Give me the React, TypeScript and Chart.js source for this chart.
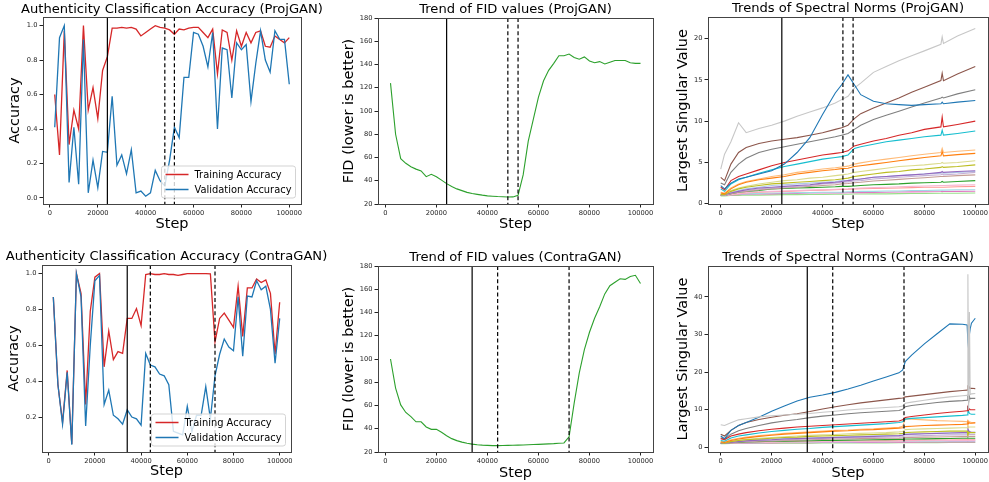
import React, { useEffect, useRef } from "react";
import { Chart, registerables } from "chart.js";

Chart.register(...registerables);

const FONT = "'DejaVu Sans', 'Liberation Sans', sans-serif";

// ---------------- shared ticks / markers ----------------
const X_TICKS = [0, 20000, 40000, 60000, 80000, 100000];
const ACC_Y_TICKS_PROJ = [0, 0.2, 0.4, 0.6, 0.8, 1.0];
const ACC_Y_TICKS_CONTRA = [0.2, 0.4, 0.6, 0.8, 1.0];
const FID_Y_TICKS = [20, 40, 60, 80, 100, 120, 140, 160, 180];
const SPEC_Y_TICKS_PROJ = [0, 5, 10, 15, 20];
const SPEC_Y_TICKS_CONTRA = [0, 10, 20, 30, 40];
const PROJ_MARKERS = [24000, 48000, 52000]; // first solid, rest dashed
const CONTRA_MARKERS = [34000, 44000, 72000];

// ---------------- accuracy / FID data ----------------
const EVAL_STEPS = [2000, 4000, 6000, 8000, 10000, 12000, 14000, 16000, 18000, 20000, 22000, 24000, 26000, 28000, 30000, 32000, 34000, 36000, 38000, 40000, 42000, 44000, 46000, 48000, 50000, 52000, 54000, 56000, 58000, 60000, 62000, 64000, 66000, 68000, 70000, 72000, 74000, 76000, 78000, 80000, 82000, 84000, 86000, 88000, 90000, 92000, 94000, 96000, 98000, 100000];

const PROJ_TRAIN_ACC = [0.60, 0.25, 0.97, 0.31, 0.51, 0.40, 1.0, 0.51, 0.64, 0.46, 0.74, 0.82, 0.985, 0.985, 0.99, 0.985, 0.99, 0.98, 0.94, 0.96, 0.98, 1.0, 0.99, 0.985, 0.975, 0.95, 0.98, 0.975, 0.985, 0.99, 0.99, 0.96, 0.93, 0.98, 0.72, 0.975, 0.96, 0.80, 0.97, 0.88, 0.96, 0.90, 0.96, 0.97, 0.88, 0.875, 0.94, 0.92, 0.90, 0.93];
const PROJ_VAL_ACC = [0.41, 0.93, 1.0, 0.09, 0.41, 0.08, 0.92, 0.03, 0.22, 0.06, 0.27, 0.265, 0.59, 0.19, 0.25, 0.14, 0.28, 0.03, 0.04, 0.01, 0.03, 0.16, 0.10, 0.07, 0.22, 0.41, 0.35, 0.70, 0.70, 0.96, 0.95, 0.88, 0.76, 0.96, 0.40, 0.87, 0.86, 0.58, 0.90, 0.86, 0.89, 0.56, 0.78, 0.97, 0.80, 0.73, 0.97, 0.92, 0.92, 0.66];
const CONTRA_TRAIN_ACC = [0.87, 0.38, 0.17, 0.46, 0.05, 1.0, 0.89, 0.27, 0.79, 0.98, 1.0, 0.48, 0.68, 0.52, 0.565, 0.555, 0.75, 0.75, 0.805, 0.71, 0.995, 1.0, 0.995, 0.995, 1.0, 0.995, 0.995, 0.99, 0.995, 1.0, 1.0, 1.0, 1.0, 1.0, 0.998, 0.62, 0.75, 0.78, 0.74, 0.70, 0.93, 0.65, 0.92, 0.92, 0.97, 0.95, 0.965, 0.89, 0.55, 0.84];
const CONTRA_VAL_ACC = [0.87, 0.38, 0.16, 0.45, 0.045, 1.0, 0.87, 0.15, 0.60, 0.96, 0.99, 0.27, 0.35, 0.21, 0.19, 0.16, 0.24, 0.20, 0.19, 0.155, 0.555, 0.49, 0.48, 0.44, 0.43, 0.38, 0.12, 0.11, 0.10, 0.26, 0.12, 0.21, 0.21, 0.37, 0.19, 0.43, 0.55, 0.635, 0.59, 0.57, 0.87, 0.54, 0.875, 0.87, 0.96, 0.91, 0.93, 0.80, 0.50, 0.75];

const PROJ_FID = [124, 80, 59, 55, 52, 50, 48.5, 43.5, 45.5, 43.5, 40.5, 37.5, 35, 33, 31.5, 30, 29, 28.3, 27.6, 27, 26.7, 26.4, 26.2, 26.0, 26.1, 27.5, 45, 74, 93, 112, 126, 135, 141, 147.5, 147.5, 149, 146, 144.5, 146.5, 143, 141.5, 142.5, 140.5, 142, 143.5, 143.5, 143.5, 141.5, 141, 141];
const CONTRA_FID = [100, 75, 60.5, 54, 50.5, 46, 46, 41.5, 39.5, 39.5, 37, 34, 31.5, 29.8, 28.5, 27.5, 26.8, 26.2, 25.9, 25.7, 25.5, 25.5, 25.6, 25.7, 25.8, 25.9, 26.0, 26.2, 26.4, 26.6, 26.8, 27.0, 27.2, 27.5, 27.8, 33, 62, 88, 108, 123, 135, 145, 156, 163, 166, 169, 168.5, 171, 172, 165];

// ---------------- spectral norms (ProjGAN) ----------------
const PROJ_SPEC_STEPS = [0, 1500, 4000, 7000, 10000, 15000, 20000, 25000, 30000, 35000, 40000, 45000, 47500, 50000, 52500, 55000, 60000, 65000, 70000, 75000, 80000, 86500, 87000, 87500, 93000, 100000];
const P_LIGHTGRAY = [4.2, 6.0, 7.5, 9.8, 8.6, 9.1, 9.5, 10.0, 10.6, 11.1, 11.6, 12.2, 12.6, 13.0, 14.0, 14.6, 15.9, 16.6, 17.3, 17.9, 18.5, 19.3, 20.2, 19.4, 20.3, 21.2];
const P_BROWN = [3.2, 2.8, 4.8, 6.2, 6.8, 7.3, 7.6, 7.8, 8.0, 8.3, 8.6, 9.0, 9.2, 9.5, 10.3, 10.9, 11.6, 12.2, 12.8, 13.5, 14.1, 14.9, 15.8, 14.9, 15.7, 16.6];
const P_GRAY = [2.5, 2.3, 3.8, 4.8, 5.5, 6.2, 6.6, 6.9, 7.2, 7.5, 7.8, 8.1, 8.3, 8.5, 9.0, 9.5, 10.2, 10.7, 11.2, 11.7, 12.2, 12.8, 12.9, 12.8, 13.3, 13.8];
const P_BLUE = [2.2, 1.8, 2.5, 3.0, 3.2, 3.6, 4.0, 4.8, 6.2, 8.0, 10.8, 13.4, 14.4, 15.6, 14.4, 13.2, 12.4, 12.1, 12.0, 11.9, 12.0, 12.1, 12.3, 12.1, 12.3, 12.5];
const P_RED = [2.0, 1.7, 2.8, 3.3, 3.6, 4.1, 4.6, 5.0, 5.3, 5.6, 5.9, 6.1, 6.2, 6.4, 7.0, 7.2, 7.6, 7.9, 8.3, 8.6, 9.0, 9.3, 10.5, 9.3, 9.6, 10.0];
const P_CYAN = [1.8, 1.5, 2.4, 2.9, 3.2, 3.7, 4.1, 4.5, 4.8, 5.1, 5.4, 5.6, 5.7, 5.9, 6.7, 6.9, 7.2, 7.5, 7.7, 7.9, 8.1, 8.3, 8.9, 8.3, 8.5, 8.8];
const P_LIGHTORANGE = [1.4, 1.3, 1.9, 2.4, 2.7, 3.0, 3.3, 3.5, 3.8, 4.0, 4.2, 4.35, 4.45, 4.55, 4.8, 4.95, 5.2, 5.4, 5.6, 5.8, 6.0, 6.2, 6.7, 6.2, 6.35, 6.5];
const P_ORANGE = [1.3, 1.2, 1.8, 2.3, 2.6, 2.9, 3.1, 3.3, 3.6, 3.8, 4.0, 4.15, 4.25, 4.3, 4.5, 4.6, 4.8, 5.0, 5.2, 5.4, 5.6, 5.8, 6.3, 5.8, 5.95, 6.1];
const P_LIGHTOLIVE = [1.2, 1.2, 1.6, 1.9, 2.1, 2.4, 2.6, 2.8, 2.9, 3.1, 3.2, 3.4, 3.5, 3.6, 3.8, 3.9, 4.1, 4.3, 4.5, 4.6, 4.7, 4.9, 5.0, 4.9, 5.0, 5.2];
const P_OLIVE = [1.1, 1.1, 1.5, 1.8, 2.0, 2.2, 2.4, 2.5, 2.6, 2.7, 2.8, 2.9, 3.0, 3.1, 3.3, 3.4, 3.6, 3.8, 3.9, 4.1, 4.2, 4.4, 4.5, 4.4, 4.5, 4.7];
const P_LIGHTBLUE = [1.1, 1.1, 1.4, 1.6, 1.8, 2.0, 2.2, 2.3, 2.4, 2.5, 2.6, 2.7, 2.8, 2.85, 2.95, 3.0, 3.2, 3.3, 3.4, 3.5, 3.6, 3.7, 3.8, 3.7, 3.8, 3.9];
const P_PURPLE = [1.1, 1.1, 1.3, 1.5, 1.7, 1.9, 2.0, 2.1, 2.2, 2.3, 2.5, 2.6, 2.7, 2.8, 2.9, 3.0, 3.2, 3.3, 3.4, 3.5, 3.6, 3.8, 3.9, 3.8, 3.9, 4.0];
const P_LIGHTPURPLE = [1.1, 1.0, 1.3, 1.5, 1.6, 1.8, 1.9, 2.0, 2.1, 2.2, 2.4, 2.5, 2.6, 2.65, 2.75, 2.8, 3.0, 3.1, 3.2, 3.3, 3.4, 3.5, 3.6, 3.5, 3.6, 3.8];
const P_LIGHTBROWN = [1.0, 1.0, 1.2, 1.4, 1.5, 1.7, 1.8, 1.9, 2.0, 2.1, 2.2, 2.3, 2.4, 2.45, 2.55, 2.6, 2.75, 2.85, 2.95, 3.05, 3.15, 3.3, 3.3, 3.3, 3.4, 3.5];
const P_GREEN = [1.0, 1.0, 1.2, 1.4, 1.5, 1.6, 1.8, 1.85, 1.9, 1.95, 2.0, 2.05, 2.1, 2.1, 2.15, 2.2, 2.3, 2.35, 2.4, 2.5, 2.55, 2.6, 2.7, 2.6, 2.7, 2.8];
const P_LIGHTRED = [1.0, 1.0, 1.1, 1.2, 1.3, 1.4, 1.45, 1.5, 1.55, 1.6, 1.65, 1.7, 1.72, 1.75, 1.8, 1.82, 1.85, 1.88, 1.9, 1.95, 2.0, 2.0, 2.0, 2.0, 2.05, 2.1];
const P_LIGHTPINK = [1.0, 1.0, 1.1, 1.25, 1.35, 1.45, 1.5, 1.55, 1.6, 1.65, 1.7, 1.75, 1.78, 1.8, 1.85, 1.9, 1.95, 2.0, 2.05, 2.1, 2.15, 2.2, 2.2, 2.2, 2.25, 2.3];
const P_PINK = [1.0, 1.0, 1.05, 1.1, 1.15, 1.2, 1.2, 1.25, 1.25, 1.3, 1.3, 1.3, 1.32, 1.33, 1.35, 1.35, 1.38, 1.4, 1.42, 1.44, 1.46, 1.48, 1.5, 1.48, 1.5, 1.52];
const P_LIGHTCYAN = [1.0, 1.0, 1.1, 1.15, 1.2, 1.25, 1.3, 1.3, 1.35, 1.35, 1.4, 1.4, 1.4, 1.45, 1.45, 1.5, 1.5, 1.55, 1.55, 1.6, 1.6, 1.65, 1.65, 1.65, 1.7, 1.7];
const P_LIGHTGREEN = [0.95, 0.95, 1.0, 1.0, 1.05, 1.05, 1.08, 1.1, 1.1, 1.12, 1.12, 1.15, 1.15, 1.15, 1.18, 1.18, 1.2, 1.2, 1.22, 1.24, 1.25, 1.27, 1.3, 1.27, 1.28, 1.3];

// ---------------- spectral norms (ContraGAN) ----------------
const CONTRA_SPEC_STEPS = [0, 1500, 4000, 7000, 10000, 15000, 20000, 25000, 30000, 35000, 40000, 45000, 50000, 55000, 60000, 65000, 70000, 71500, 72500, 75000, 80000, 85000, 90000, 95000, 96800, 97100, 97400, 97700, 98000, 98500, 100000];
const C_BLUE = [3.0, 2.3, 4.5, 5.8, 6.6, 8.0, 9.6, 11.0, 12.3, 13.3, 13.9, 14.6, 15.5, 16.5, 17.6, 18.7, 19.8, 20.6, 22.8, 24.5, 27.5, 30.2, 32.8, 32.7, 32.5, 28, 26, 30, 31.5, 33, 34.3];
const C_LIGHTGRAY = [6.0, 5.8, 6.5, 7.3, 7.6, 8.1, 8.4, 8.6, 8.8, 9.0, 9.3, 9.6, 9.9, 10.2, 10.4, 10.6, 10.8, 11.0, 11.7, 12.0, 12.5, 13.0, 13.4, 13.7, 13.8, 46, 10, 36, 14, 14.2, 14.3];
const C_BROWN = [3.5, 3.0, 4.5, 5.8, 6.6, 7.4, 8.0, 8.5, 8.9, 9.5, 10.2, 10.8, 11.3, 11.8, 12.2, 12.6, 13.0, 13.1, 13.4, 13.6, 14.0, 14.4, 14.8, 15.1, 15.2, 16.5, 15.5, 16, 15.6, 15.7, 15.6];
const C_GRAY = [2.5, 2.2, 3.5, 4.4, 5.0, 5.8, 6.5, 7.0, 7.4, 7.9, 8.3, 8.6, 8.9, 9.2, 9.4, 9.6, 9.8, 10.1, 10.8, 11.1, 11.5, 11.9, 12.2, 12.4, 12.5, 14, 12, 13.5, 12.9, 13.0, 13.0];
const C_RED = [2.3, 2.0, 3.0, 3.5, 3.9, 4.4, 4.8, 5.1, 5.4, 5.6, 5.8, 6.0, 6.2, 6.4, 6.6, 6.8, 7.0, 7.3, 7.9, 8.2, 8.6, 9.0, 9.3, 9.6, 9.7, 10.5, 9.9, 10.2, 10.0, 10.0, 10.0];
const C_CYAN = [1.8, 1.6, 2.5, 3.0, 3.3, 3.8, 4.2, 4.5, 4.8, 5.0, 5.3, 5.5, 5.7, 5.9, 6.1, 6.3, 6.6, 6.8, 7.5, 7.7, 7.9, 8.1, 8.3, 8.5, 8.6, 11.0, 9.5, 9.0, 8.9, 8.8, 8.8];
const C_LIGHTORANGE = [1.5, 1.4, 2.0, 2.4, 2.7, 3.1, 3.4, 3.7, 3.9, 4.1, 4.3, 4.5, 4.6, 4.8, 4.9, 5.1, 5.3, 5.6, 7.6, 7.5, 7.3, 7.1, 7.0, 6.9, 6.8, 6.0, 7.0, 6.7, 6.7, 6.6, 6.6];
const C_ORANGE = [1.4, 1.3, 1.8, 2.2, 2.5, 2.9, 3.2, 3.5, 3.7, 3.9, 4.1, 4.3, 4.4, 4.6, 4.7, 4.9, 5.1, 5.2, 5.5, 5.6, 5.8, 5.9, 6.0, 6.1, 6.2, 6.8, 6.3, 6.5, 6.4, 6.4, 6.5];
const C_LIGHTOLIVE = [1.3, 1.2, 1.6, 1.9, 2.1, 2.4, 2.6, 2.8, 3.0, 3.2, 3.3, 3.4, 3.6, 3.7, 3.8, 3.9, 4.1, 4.2, 4.7, 4.8, 4.9, 5.0, 5.1, 5.2, 5.2, 5.8, 5.3, 5.4, 5.4, 5.4, 5.4];
const C_OLIVE = [1.2, 1.1, 1.5, 1.8, 2.0, 2.2, 2.4, 2.6, 2.7, 2.9, 3.0, 3.1, 3.2, 3.3, 3.4, 3.5, 3.6, 3.7, 3.9, 4.0, 4.1, 4.2, 4.3, 4.3, 4.3, 3.0, 4.0, 3.8, 3.9, 3.9, 3.9];
const C_LIGHTBLUE = [1.1, 1.1, 1.4, 1.6, 1.8, 2.0, 2.2, 2.3, 2.4, 2.5, 2.6, 2.7, 2.8, 2.9, 3.0, 3.1, 3.2, 3.3, 3.5, 3.5, 3.6, 3.7, 3.8, 3.8, 3.8, 4.2, 3.9, 3.9, 3.9, 3.9, 3.9];
const C_PURPLE = [1.1, 1.1, 1.3, 1.5, 1.7, 1.9, 2.0, 2.2, 2.3, 2.4, 2.5, 2.6, 2.7, 2.8, 2.9, 3.0, 3.1, 3.2, 3.4, 3.5, 3.6, 3.7, 3.8, 3.9, 3.9, 5.0, 4.4, 4.2, 4.1, 4.0, 4.0];
const C_LIGHTPURPLE = [1.1, 1.0, 1.3, 1.5, 1.6, 1.8, 1.9, 2.0, 2.1, 2.2, 2.3, 2.4, 2.5, 2.6, 2.65, 2.7, 2.8, 2.85, 3.0, 3.0, 3.1, 3.2, 3.3, 3.3, 3.3, 3.6, 3.4, 3.4, 3.4, 3.4, 3.4];
const C_LIGHTBROWN = [1.0, 1.0, 1.2, 1.4, 1.5, 1.6, 1.7, 1.8, 1.9, 2.0, 2.1, 2.2, 2.25, 2.3, 2.35, 2.4, 2.45, 2.5, 2.6, 2.65, 2.7, 2.75, 2.8, 2.85, 2.85, 3.0, 2.9, 2.9, 2.9, 2.9, 2.9];
const C_GREEN = [1.0, 1.0, 1.2, 1.3, 1.4, 1.5, 1.6, 1.65, 1.7, 1.75, 1.8, 1.85, 1.9, 1.95, 2.0, 2.05, 2.1, 2.1, 2.2, 2.2, 2.25, 2.3, 2.35, 2.4, 2.4, 2.5, 2.4, 2.4, 2.4, 2.4, 2.4];
const C_LIGHTRED = [1.0, 1.0, 1.1, 1.2, 1.3, 1.35, 1.4, 1.45, 1.5, 1.55, 1.6, 1.62, 1.65, 1.68, 1.7, 1.72, 1.75, 1.78, 1.85, 1.85, 1.9, 1.92, 1.95, 2.0, 2.0, 2.1, 2.0, 2.0, 2.0, 2.0, 2.0];
const C_LIGHTPINK = [1.0, 1.0, 1.1, 1.2, 1.25, 1.3, 1.35, 1.4, 1.42, 1.45, 1.5, 1.52, 1.55, 1.58, 1.6, 1.62, 1.65, 1.67, 1.72, 1.72, 1.75, 1.78, 1.8, 1.82, 1.82, 1.9, 1.85, 1.85, 1.85, 1.85, 1.85];
const C_PINK = [1.0, 1.0, 1.05, 1.1, 1.12, 1.15, 1.18, 1.2, 1.22, 1.24, 1.26, 1.28, 1.3, 1.31, 1.32, 1.33, 1.35, 1.36, 1.38, 1.38, 1.4, 1.42, 1.43, 1.44, 1.44, 1.5, 1.45, 1.45, 1.45, 1.45, 1.45];
const C_LIGHTCYAN = [1.0, 1.0, 1.1, 1.15, 1.2, 1.25, 1.3, 1.32, 1.35, 1.38, 1.4, 1.42, 1.45, 1.47, 1.5, 1.52, 1.55, 1.56, 1.6, 1.6, 1.62, 1.64, 1.66, 1.68, 1.68, 1.8, 1.7, 1.7, 1.7, 1.7, 1.7];
const C_LIGHTGREEN = [0.95, 0.95, 1.0, 1.02, 1.05, 1.07, 1.08, 1.1, 1.1, 1.12, 1.13, 1.14, 1.15, 1.16, 1.17, 1.18, 1.19, 1.2, 1.22, 1.22, 1.24, 1.25, 1.26, 1.27, 1.27, 1.3, 1.28, 1.28, 1.28, 1.28, 1.28];

// ---------------- colours ----------------
const C = {
  blue: "#1f77b4", lightBlue: "#aec7e8", orange: "#ff7f0e", lightOrange: "#ffbb78",
  green: "#2ca02c", lightGreen: "#98df8a", red: "#d62728", lightRed: "#ff9896",
  purple: "#9467bd", lightPurple: "#c5b0d5", brown: "#8c564b", lightBrown: "#c49c94",
  pink: "#e377c2", lightPink: "#f7b6d2", gray: "#7f7f7f", lightGray: "#c7c7c7",
  olive: "#bcbd22", lightOlive: "#dbdb8d", cyan: "#17becf", lightCyan: "#9edae5",
};

function line(steps: number[], vals: number[], color: string, width = 1.2, label?: string) {
  return {
    label,
    data: steps.map((s, i) => ({ x: s, y: vals[i] })),
    borderColor: color,
    backgroundColor: color,
    borderWidth: width,
    pointRadius: 0,
    fill: false,
    tension: 0,
  };
}

// first entry is drawn on top in Chart.js
const PROJ_SPEC_SERIES: [number[], string][] = [
  [P_BLUE, C.blue], [P_RED, C.red], [P_CYAN, C.cyan], [P_BROWN, C.brown], [P_GRAY, C.gray],
  [P_ORANGE, C.orange], [P_LIGHTORANGE, C.lightOrange], [P_OLIVE, C.olive], [P_LIGHTOLIVE, C.lightOlive],
  [P_PURPLE, C.purple], [P_LIGHTPURPLE, C.lightPurple], [P_LIGHTBLUE, C.lightBlue], [P_LIGHTBROWN, C.lightBrown],
  [P_GREEN, C.green], [P_LIGHTPINK, C.lightPink], [P_LIGHTRED, C.lightRed], [P_LIGHTCYAN, C.lightCyan],
  [P_PINK, C.pink], [P_LIGHTGREEN, C.lightGreen], [P_LIGHTGRAY, C.lightGray],
];
const CONTRA_SPEC_SERIES: [number[], string][] = [
  [C_LIGHTGRAY, C.lightGray], [C_BLUE, C.blue], [C_RED, C.red], [C_CYAN, C.cyan], [C_BROWN, C.brown], [C_GRAY, C.gray],
  [C_ORANGE, C.orange], [C_LIGHTORANGE, C.lightOrange], [C_OLIVE, C.olive], [C_LIGHTOLIVE, C.lightOlive],
  [C_PURPLE, C.purple], [C_LIGHTPURPLE, C.lightPurple], [C_LIGHTBLUE, C.lightBlue], [C_LIGHTBROWN, C.lightBrown],
  [C_GREEN, C.green], [C_LIGHTPINK, C.lightPink], [C_LIGHTRED, C.lightRed], [C_LIGHTCYAN, C.lightCyan],
  [C_PINK, C.pink], [C_LIGHTGREEN, C.lightGreen],
];

// ---------------- decoration plugin (title, markers, legend, frame) ----------------
const decorPlugin = {
  id: "decor",
  afterDatasetsDraw(chart: any, _args: any, opts: any) {
    const { ctx, chartArea: a, scales } = chart;
    const xs = scales.x;
    ctx.save();
    (opts.vlines || []).forEach((v: number, i: number) => {
      const px = xs.getPixelForValue(v);
      ctx.beginPath();
      ctx.setLineDash(i === 0 ? [] : [4, 2.6]);
      ctx.lineWidth = 1.2;
      ctx.strokeStyle = "#000";
      ctx.moveTo(px, a.top);
      ctx.lineTo(px, a.bottom);
      ctx.stroke();
    });
    ctx.setLineDash([]);

    const items = opts.legend as { label: string; color: string }[] | undefined;
    if (items && items.length) {
      const fs = 9.9;
      ctx.font = `${fs}px ${FONT}`;
      const tw = Math.max(...items.map((d) => ctx.measureText(d.label).width));
      const handle = 23, gap = 6, padX = 4, padY = 1, rowH = 15;
      const w = padX + handle + gap + tw + padX;
      const h = padY * 2 + rowH * items.length;
      const x1 = a.right - 5.5 - w;
      const y1 = a.bottom - 6 - h;
      ctx.beginPath();
      if (ctx.roundRect) ctx.roundRect(x1, y1, w, h, 2.5);
      else ctx.rect(x1, y1, w, h);
      ctx.fillStyle = "rgba(255,255,255,0.8)";
      ctx.fill();
      ctx.strokeStyle = "#d3d3d3";
      ctx.lineWidth = 1;
      ctx.stroke();
      items.forEach((d, i) => {
        const cy = y1 + padY + rowH * (i + 0.5);
        ctx.beginPath();
        ctx.strokeStyle = d.color;
        ctx.lineWidth = 1.5;
        ctx.moveTo(x1 + padX, cy);
        ctx.lineTo(x1 + padX + handle, cy);
        ctx.stroke();
        ctx.fillStyle = "#000";
        ctx.textBaseline = "middle";
        ctx.textAlign = "left";
        ctx.fillText(d.label, x1 + padX + handle + gap, cy + 0.5);
      });
    }

    ctx.strokeStyle = "#444";
    ctx.lineWidth = 1;
    ctx.strokeRect(Math.round(a.left) + 0.5, Math.round(a.top) + 0.5, Math.round(a.right - a.left), Math.round(a.bottom - a.top));

    // title, centred over the plot area
    if (opts.title) {
      ctx.font = `13.1px ${FONT}`;
      ctx.fillStyle = "#000";
      ctx.textAlign = "center";
      ctx.textBaseline = "middle";
      ctx.fillText(opts.title, (a.left + a.right) / 2, opts.titleY);
    }
    ctx.restore();
  },
};

type Panel = {
  x: number; y: number; w: number; h: number;
  area: { l: number; t: number; r: number; b: number };
  title: string; titleY: number;
  yTitle: string; yTitlePad: number; xTitlePad: number;
  xMin: number; xMax: number; yMin: number; yMax: number;
  yTicks: number[]; yFmt: (v: number) => string;
  datasets: any[]; vlines: number[]; legend?: { label: string; color: string }[];
};

function makeConfig(p: Panel): any {
  const tickFont = { family: FONT, size: 6.7 };
  const labelFont = { family: FONT, size: 14.5, lineHeight: 1.2 };
  return {
    type: "line",
    data: { datasets: p.datasets },
    plugins: [decorPlugin],
    options: {
      animation: false,
      responsive: false,
      maintainAspectRatio: false,
      events: [],
      layout: { padding: { left: 0, top: p.area.t, right: p.w - p.area.r, bottom: 0 } },
      plugins: {
        legend: { display: false },
        tooltip: { enabled: false },
        title: { display: false },
        decor: { vlines: p.vlines, legend: p.legend, title: p.title, titleY: p.titleY },
      },
      scales: {
        x: {
          type: "linear",
          min: p.xMin,
          max: p.xMax,
          afterBuildTicks: (ax: any) => { ax.ticks = X_TICKS.map((v) => ({ value: v })); },
          afterFit: (s: any) => { s.height = p.h - p.area.b; },
          ticks: { font: tickFont, color: "#222", padding: 2, maxRotation: 0, autoSkip: false, callback: (v: any) => String(v) },
          grid: { drawOnChartArea: false, drawTicks: true, tickLength: 3.5, color: "#222", lineWidth: 1 },
          border: { display: false },
          title: { display: true, text: "Step", color: "#000", font: labelFont, padding: { top: 0, bottom: p.xTitlePad } },
        },
        y: {
          type: "linear",
          min: p.yMin,
          max: p.yMax,
          afterBuildTicks: (ax: any) => { ax.ticks = p.yTicks.map((v) => ({ value: v })); },
          afterFit: (s: any) => { s.width = p.area.l; },
          ticks: { font: tickFont, color: "#222", padding: 2, autoSkip: false, callback: (v: any) => p.yFmt(Number(v)) },
          grid: { drawOnChartArea: false, drawTicks: true, tickLength: 3.5, color: "#222", lineWidth: 1 },
          border: { display: false },
          title: { display: true, text: p.yTitle, color: "#000", font: labelFont, padding: { top: p.yTitlePad, bottom: 0 } },
        },
      },
    },
  };
}

const fmt1 = (v: number) => v.toFixed(1);
const fmt0 = (v: number) => String(Math.round(v));

const ACC_LEGEND = [
  { label: "Training Accuracy", color: C.red },
  { label: "Validation Accuracy", color: C.blue },
];

const PANELS: Panel[] = [
  {
    x: 0, y: 0, w: 330, h: 241, area: { l: 43, t: 17, r: 301, b: 204 },
    title: "Authenticity Classification Accuracy (ProjGAN)", titleY: 9.2,
    yTitle: "Accuracy", yTitlePad: 6.3, xTitlePad: 8.3,
    xMin: -2900, xMax: 104900, yMin: -0.035, yMax: 1.05, yTicks: ACC_Y_TICKS_PROJ, yFmt: fmt1,
    datasets: [line(EVAL_STEPS, PROJ_VAL_ACC, C.blue, 1.3), line(EVAL_STEPS, PROJ_TRAIN_ACC, C.red, 1.3)],
    vlines: PROJ_MARKERS, legend: ACC_LEGEND,
  },
  {
    x: 330, y: 0, w: 330, h: 241, area: { l: 48, t: 18, r: 323, b: 204 },
    title: "Trend of FID values (ProjGAN)", titleY: 9.4,
    yTitle: "FID (lower is better)", yTitlePad: 10.8, xTitlePad: 8.3,
    xMin: -2900, xMax: 104900, yMin: 20, yMax: 180, yTicks: FID_Y_TICKS, yFmt: fmt0,
    datasets: [line(EVAL_STEPS, PROJ_FID, C.green, 1.1)],
    vlines: PROJ_MARKERS,
  },
  {
    x: 660, y: 0, w: 360, h: 241, area: { l: 48, t: 17, r: 328, b: 204 },
    title: "Trends of Spectral Norms (ProjGAN)", titleY: 9.0,
    yTitle: "Largest Singular Value", yTitlePad: 14.6, xTitlePad: 8.3,
    xMin: -5000, xMax: 105000, yMin: -0.03, yMax: 22.6, yTicks: SPEC_Y_TICKS_PROJ, yFmt: fmt0,
    datasets: PROJ_SPEC_SERIES.map(([v, c]) => line(PROJ_SPEC_STEPS, v, c, 1.1)),
    vlines: PROJ_MARKERS,
  },
  {
    x: 0, y: 241, w: 330, h: 241, area: { l: 42, t: 24, r: 291, b: 211 },
    title: "Authenticity Classification Accuracy (ContraGAN)", titleY: 15.8,
    yTitle: "Accuracy", yTitlePad: 5.8, xTitlePad: 1.6,
    xMin: -2900, xMax: 104900, yMin: 0.005, yMax: 1.048, yTicks: ACC_Y_TICKS_CONTRA, yFmt: fmt1,
    datasets: [line(EVAL_STEPS, CONTRA_VAL_ACC, C.blue, 1.3), line(EVAL_STEPS, CONTRA_TRAIN_ACC, C.red, 1.3)],
    vlines: CONTRA_MARKERS, legend: ACC_LEGEND,
  },
  {
    x: 330, y: 241, w: 330, h: 241, area: { l: 48, t: 25, r: 323, b: 211 },
    title: "Trend of FID values (ContraGAN)", titleY: 16.3,
    yTitle: "FID (lower is better)", yTitlePad: 10.8, xTitlePad: 0,
    xMin: -2900, xMax: 104900, yMin: 20, yMax: 180, yTicks: FID_Y_TICKS, yFmt: fmt0,
    datasets: [line(EVAL_STEPS, CONTRA_FID, C.green, 1.1)],
    vlines: CONTRA_MARKERS,
  },
  {
    x: 660, y: 241, w: 360, h: 241, area: { l: 48, t: 25, r: 328, b: 211 },
    title: "Trends of Spectral Norms (ContraGAN)", titleY: 16.3,
    yTitle: "Largest Singular Value", yTitlePad: 14.6, xTitlePad: 0,
    xMin: -5000, xMax: 105000, yMin: -1.25, yMax: 48.2, yTicks: SPEC_Y_TICKS_CONTRA, yFmt: fmt0,
    datasets: CONTRA_SPEC_SERIES.map(([v, c]) => line(CONTRA_SPEC_STEPS, v, c, 1.1)),
    vlines: CONTRA_MARKERS,
  },
];

function PanelChart({ p }: { p: Panel }) {
  const ref = useRef<HTMLCanvasElement>(null);
  useEffect(() => {
    if (!ref.current) return;
    const chart = new Chart(ref.current, makeConfig(p));
    return () => chart.destroy();
  }, [p]);
  return (
    <canvas
      ref={ref}
      width={p.w}
      height={p.h}
      style={{ position: "absolute", left: p.x, top: p.y, width: p.w, height: p.h }}
    />
  );
}

export default function App() {
  return (
    <div style={{ position: "fixed", left: 0, top: 0, width: 989, height: 482, overflow: "hidden", background: "#fff" }}>
      {PANELS.map((p, i) => (
        <PanelChart key={i} p={p} />
      ))}
    </div>
  );
}
